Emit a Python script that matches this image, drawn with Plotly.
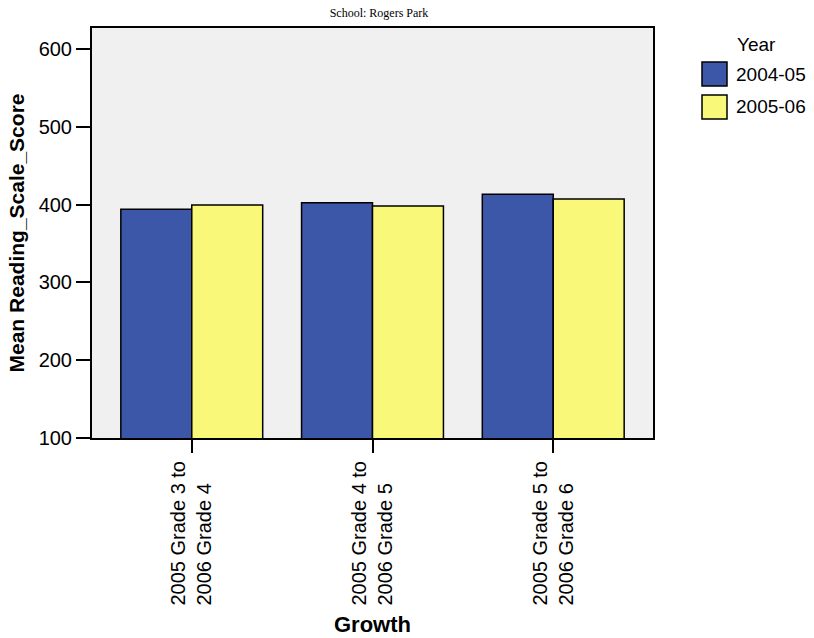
import plotly.graph_objects as go

# ---- data ----
categories = ["2005 Grade 3 to<br>2006 Grade 4",
              "2005 Grade 4 to<br>2006 Grade 5",
              "2005 Grade 5 to<br>2006 Grade 6"]
tick_labels = ["2005 Grade 3 to<br>2006 Grade 4" + "\u00a0" * 4,
               "2005 Grade 4 to<br>2006 Grade 5" + "\u00a0" * 4,
               "2005 Grade 5 to<br>2006 Grade 6" + "\u00a0" * 4]
series_names = ["2004-05", "2005-06"]
values_2004_05 = [394.0, 402.4, 413.2]
values_2005_06 = [399.5, 398.2, 407.2]
series_colors = ["#3d57a8", "#faf878"]
y_ticks = [100, 200, 300, 400, 500, 600]

W, H = 814, 638
L, R, T, B = 92, 161, 28, 200
PW, PH = W - L - R, H - T - B


def px_x(p):
    return (p - L) / PW


def px_y(p):
    return (H - B - p) / PH


fig = go.Figure()
for name, vals, col in zip(series_names, [values_2004_05, values_2005_06], series_colors):
    fig.add_trace(go.Bar(
        x=categories, y=vals, name=name,
        marker=dict(color=col, line=dict(color="black", width=1.5)),
        showlegend=False,
    ))

font_main = "Liberation Sans, Arial, sans-serif"

fig.update_layout(
    width=W, height=H,
    margin=dict(l=L, r=R, t=T, b=B, autoexpand=False),
    paper_bgcolor="white",
    plot_bgcolor="#f0f0f0",
    barmode="group",
    bargap=0.215,
    bargroupgap=0,
    font=dict(family=font_main, size=20, color="black"),
    title=dict(text="School: Rogers Park", x=px_x(379), xref="paper", xanchor="center",
               y=1 - 13 / H, yanchor="middle",
               font=dict(family="Liberation Serif, Times New Roman, serif", size=12, color="black")),
    xaxis=dict(
        type="category",
        range=[-0.552, 2.552],
        tickmode="array", tickvals=categories, ticktext=tick_labels,
        tickangle=-90,
        ticks="outside", ticklen=13, tickwidth=2, tickcolor="black",
        showline=True, linecolor="black", linewidth=2, mirror=True,
        showgrid=False, zeroline=False,
        tickfont=dict(size=20),
        title=dict(text="<b>Growth</b>", font=dict(size=22), standoff=12),
    ),
    yaxis=dict(
        range=[100, 627],
        tickmode="array", tickvals=y_ticks,
        ticks="outside", ticklen=14, tickwidth=1.5, tickcolor="black",
        showline=True, linecolor="black", linewidth=2, mirror=True,
        showgrid=False, zeroline=False,
        tickfont=dict(size=20),
        title=dict(text="<b>Mean Reading_Scale_Score</b>", font=dict(size=21), standoff=8),
    ),
)

# ---- legend (drawn to match the large swatches) ----
fig.add_annotation(text="Year", xref="paper", yref="paper",
                   x=px_x(735), y=px_y(44), xanchor="left", yanchor="middle",
                   showarrow=False, font=dict(size=19))
sw_top = [62, 95]
for name, col, top in zip(series_names, series_colors, sw_top):
    fig.add_shape(type="rect", xref="paper", yref="paper",
                  x0=px_x(702), x1=px_x(727), y0=px_y(top + 24), y1=px_y(top),
                  fillcolor=col, line=dict(color="black", width=1.5))
    fig.add_annotation(text=name, xref="paper", yref="paper",
                       x=px_x(734), y=px_y(top + 12), xanchor="left", yanchor="middle",
                       showarrow=False, font=dict(size=19))

fig.write_html("out.html", config={"displayModeBar": False},
               post_script="document.body.style.margin='0px';")
